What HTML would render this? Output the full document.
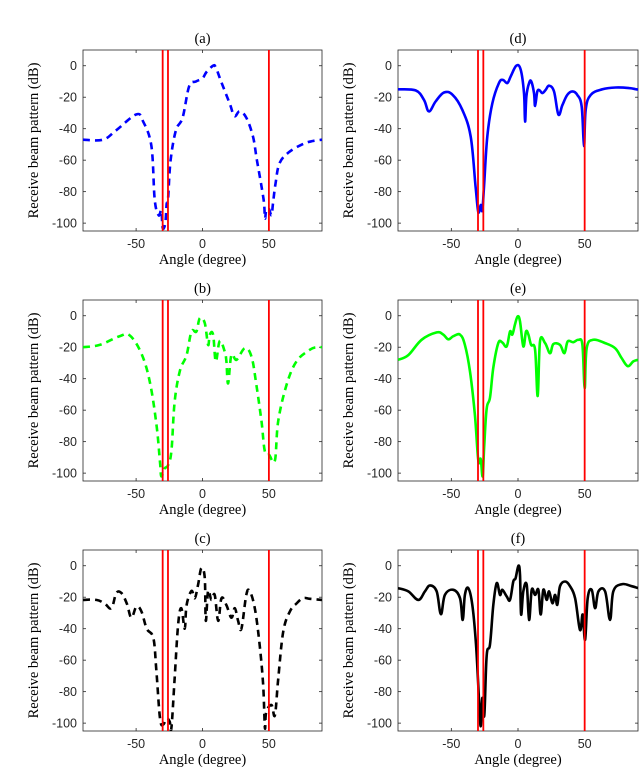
<!DOCTYPE html>
<html><head><meta charset="utf-8">
<style>
html,body{margin:0;padding:0;background:#fff;}
svg{display:block;}
.tk{font-family:"Liberation Sans",sans-serif;font-size:12.5px;fill:#262626;}
.lb{font-family:"Liberation Serif",serif;font-size:14.5px;fill:#000;}
</style></head>
<body>
<svg id="fig" width="640" height="771" viewBox="0 0 640 771" xmlns="http://www.w3.org/2000/svg"></svg>
<script>
const angA=[-90,-75,-65,-50,-45,-38.5,-36,-33,-31,-30,-28,-27,-26,-24,-20,-15,-10,-5,0,3,8,10,14,20.5,24,28,33,38,41,46,47,48,50,52,53,55,58,65,75,82,90];
const dbA=[-47,-47,-41,-31,-35,-51,-85,-95,-92,-103,-100,-88,-85,-60,-41,-33,-13,-10,-8,-4,0,-1,-10,-24,-32,-29,-33,-45,-60,-85,-97,-92,-91,-95,-88,-75,-62,-55,-50,-48,-47];
const angB=[-90,-77.4,-62.4,-54.8,-46,-39.7,-34.7,-32,-31,-28.5,-26,-23.4,-21,-17,-12,-8.3,-4.6,-2,1.7,4.2,5.5,8,10,13,16.8,18,19.3,21.8,25.6,31.9,36.9,40.6,44.4,46.9,50.2,54.5,57,63.3,70.8,80.9,86,90];
const dbB=[-20,-18.5,-13,-12.5,-24,-42,-69,-93,-102,-97,-95,-86,-55,-35,-25,-10,-10,-1.5,-4.7,-18.5,-12,-12,-29,-16,-23,-29,-43,-25,-28,-20.6,-26,-44,-67,-86,-88.5,-92,-67,-44,-29,-21.6,-20,-20];
const angC=[-90,-80,-73.7,-68.6,-64.9,-61,-57,-53.6,-49.8,-46,-42,-37,-34.7,-32,-29.7,-27,-24.7,-23.4,-21,-18.4,-16,-13.4,-12,-8.3,-5.8,-3.3,-0.8,1.7,2.5,4.2,6.7,9.2,11.8,14.3,18,21.8,24.3,26.8,29.3,33,35.6,39.4,43,45.7,47,48,52,54.5,57,60.8,65.8,70.8,75.8,80.9,90];
const dbC=[-21.7,-21.7,-24,-27,-17.4,-17.4,-24,-33,-26,-29,-40,-46,-67,-97,-101,-97,-99,-103,-72,-37.6,-27,-40,-25,-16,-20.6,-12,-1.5,-8,-35,-16,-21.7,-18.5,-35,-20.6,-25,-33,-27,-35,-40,-18.5,-16.3,-27,-50,-76,-103,-93,-88.5,-95,-72,-42,-29,-24,-20.6,-21,-21.7];
const angD=[-90,-76.8,-70.5,-66.8,-61.8,-55.5,-49,-41.8,-35.5,-31.8,-29.8,-28,-26.8,-25.5,-23,-19.3,-14.3,-11.3,-8,-5.5,-1.3,2,4.5,5.3,6.3,8.3,10,12,12.8,14.5,16.3,18.3,20.8,23.3,27,30.3,33.3,37,40.8,44.5,47.8,49.5,50.8,54.5,63.3,73.3,83.3,88.8,90];
const dbD=[-15,-15.7,-21.7,-29,-22.7,-17,-18.5,-28,-45,-77,-93,-88.5,-92,-77,-45,-24,-11,-9,-11,-6.8,0,-2.5,-17.4,-35.5,-19.5,-11,-10,-17.4,-25.5,-16.3,-15.7,-17.4,-15.3,-12.7,-16.3,-31,-25,-18.5,-16.3,-18.5,-26,-51,-28,-18.5,-15,-13.8,-14.2,-15,-15];
const angE=[-90,-82.3,-72.3,-61,-56,-52.3,-48.5,-43.5,-39.8,-36,-32.3,-29.8,-28,-26.5,-25.3,-23.5,-21,-18.5,-14.8,-11.8,-8.5,-6,-4.3,-2.3,-0.3,1.5,4,6,7.8,9.8,12.8,14.8,16.5,20.3,24,26.5,31.5,34.8,37.3,41.5,45.3,48.3,50,51.5,56.5,65.3,72.8,77.8,82.3,86.5,90];
const dbE=[-28,-25,-15.3,-10.6,-12,-15,-13,-12,-18.5,-35.5,-63,-92,-91,-102,-82,-59,-52,-33,-17.4,-17,-19.5,-10,-12,-5.7,-0.4,-3.6,-19.5,-10,-12,-18.5,-21.7,-51,-16.3,-17.4,-23.8,-18,-18.5,-23.8,-16.3,-16.8,-15.3,-18.5,-46,-20.6,-15.3,-17.4,-20.6,-27,-32,-29,-28];
const angF=[-90,-82.3,-74.8,-69.8,-66,-61,-57.8,-54.8,-48.5,-43.5,-41.5,-39.8,-37.3,-34.3,-31.5,-29.3,-28,-26.8,-25.3,-23.5,-21,-18.5,-16,-13.5,-11.8,-8.5,-6,-3.5,-1.8,0.3,1.5,2.3,4,6.5,8.3,10.3,12.8,15.3,17,19,21.5,23.3,25.8,27.8,29.5,31.5,35.3,39,42.8,46.5,48.5,50.3,52.3,55.3,57.8,60.3,65.3,69,71.5,77.8,85.3,90];
const dbF=[-14.2,-16.3,-21.7,-16.3,-12.5,-16.3,-30.8,-18.5,-15.3,-20.6,-34.4,-18.5,-14.2,-24.8,-50,-84,-102,-84,-95,-57,-50,-25,-11,-18.5,-15.3,-19.5,-21.7,-10,-7.9,0,-5.7,-31,-16.3,-12,-34.4,-15.3,-18.5,-15.3,-31,-15.3,-21.7,-16.3,-23.8,-18.5,-24.8,-13,-10,-13,-20.6,-40.8,-31,-47,-20.6,-15.3,-27,-16.3,-16.3,-34.4,-16.3,-11.7,-13,-14.2];
const nullAngles=[-30,-26,50];
const yTicks=[0,-20,-40,-60,-80,-100];
const xTicks=[-50,0,50];
const titles=['(a)','(b)','(c)','(d)','(e)','(f)'];

const NS='http://www.w3.org/2000/svg';
const svg=document.getElementById('fig');
function mk(tag,attrs,parent){const e=document.createElementNS(NS,tag);for(const k in attrs)e.setAttribute(k,attrs[k]);(parent||svg).appendChild(e);return e;}
function smoothPath(pts){
  let d='M'+pts[0][0].toFixed(1)+' '+pts[0][1].toFixed(1);
  const t=0.18;
  for(let i=0;i<pts.length-1;i++){
    const p0=pts[i>0?i-1:i],p1=pts[i],p2=pts[i+1],p3=pts[i+2<pts.length?i+2:i+1];
    const c1x=p1[0]+(p2[0]-p0[0])*t,c1y=p1[1]+(p2[1]-p0[1])*t;
    const c2x=p2[0]-(p3[0]-p1[0])*t,c2y=p2[1]-(p3[1]-p1[1])*t;
    d+='C'+c1x.toFixed(1)+' '+c1y.toFixed(1)+' '+c2x.toFixed(1)+' '+c2y.toFixed(1)+' '+p2[0].toFixed(1)+' '+p2[1].toFixed(1);
  }
  return d;
}

const panels=[
 {x0:83,x1:322,y0:50,ang:angA,db:dbA,color:'#0000ff',dash:true},
 {x0:83,x1:322,y0:300,ang:angB,db:dbB,color:'#00ff00',dash:true},
 {x0:83,x1:322,y0:550,ang:angC,db:dbC,color:'#000000',dash:true},
 {x0:398,x1:638,y0:50,ang:angD,db:dbD,color:'#0000ff',dash:false},
 {x0:398,x1:638,y0:300,ang:angE,db:dbE,color:'#00ff00',dash:false},
 {x0:398,x1:638,y0:550,ang:angF,db:dbF,color:'#000000',dash:false}
];
panels.forEach((p,i)=>{
  const h=181;
  const xs=a=>p.x0+(a+90)/180*(p.x1-p.x0);
  const ys=d=>p.y0+(10-d)/115*h;
  const g=mk('g',{});
  
  
  const cid='clip'+i;
  const cp=mk('clipPath',{id:cid},g);
  mk('rect',{x:p.x0,y:p.y0,width:p.x1-p.x0,height:h},cp);
  const bg=mk('rect',{x:p.x0,y:p.y0,width:p.x1-p.x0,height:h,fill:'#fff',stroke:'#262626','stroke-width':0.8},g);
  
  
  yTicks.forEach(t=>{
    const y=ys(t);
    mk('line',{x1:p.x0,x2:p.x0+3,y1:y,y2:y,stroke:'#262626','stroke-width':0.8},g);
    mk('line',{x1:p.x1,x2:p.x1-3,y1:y,y2:y,stroke:'#262626','stroke-width':0.8},g);
    const tx=mk('text',{x:p.x0-6,y:y+4.5,'text-anchor':'end',class:'tk'},g);
    tx.textContent=String(t);
    
    
  });
  xTicks.forEach(t=>{
    const x=xs(t);
    mk('line',{x1:x,x2:x,y1:p.y0+h,y2:p.y0+h-3,stroke:'#262626','stroke-width':0.8},g);
    mk('line',{x1:x,x2:x,y1:p.y0,y2:p.y0+3,stroke:'#262626','stroke-width':0.8},g);
    const tx=mk('text',{x:x,y:p.y0+h+17,'text-anchor':'middle',class:'tk'},g);
    tx.textContent=String(t);
    
    
  });
  const cg=mk('g',{'clip-path':'url(#'+cid+')'},g);
  const pts=p.ang.map((a,k)=>[xs(a),ys(p.db[k])]);
  const line=mk('path',{d:smoothPath(pts),fill:'none',stroke:p.color,'stroke-width':2.6,'stroke-linejoin':'round'},cg);
  if(p.dash)line.setAttribute('stroke-dasharray','7 5');
  
  
  nullAngles.forEach(a=>{
    const r=mk('line',{x1:xs(a),x2:xs(a),y1:p.y0,y2:p.y0+h,stroke:'#ff0000','stroke-width':1.8},cg);
    
    
  });
  const cx=(p.x0+p.x1)/2;
  const tt=mk('text',{x:cx,y:p.y0-7,'text-anchor':'middle',class:'lb'},g);
  tt.textContent=titles[i];
  
  
  const xl=mk('text',{x:cx,y:p.y0+h+33,'text-anchor':'middle',class:'lb'},g);
  xl.textContent='Angle (degree)';
  
  
  const ylx=p.x0-45, yly=p.y0+h/2;
  const yl=mk('text',{x:ylx,y:yly,'text-anchor':'middle',class:'lb',transform:'rotate(-90 '+ylx+' '+yly+')'},g);
  yl.textContent='Receive beam pattern (dB)';
  
  
});
</script>
</body></html>
